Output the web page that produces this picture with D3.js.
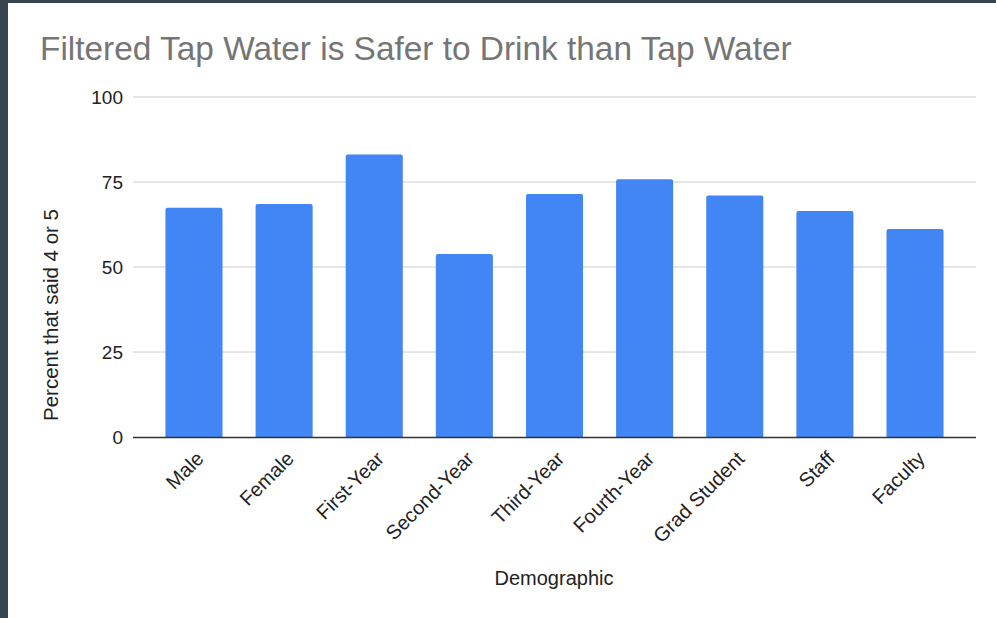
<!DOCTYPE html>
<html>
<head>
<meta charset="utf-8">
<script src="https://cdn.jsdelivr.net/npm/d3@7"></script>
<style>
  html, body { margin: 0; padding: 0; background: #36454f; }
  svg { display: block; }
</style>
</head>
<body>
<script>
const categories = ["Male", "Female", "First-Year", "Second-Year", "Third-Year", "Fourth-Year", "Grad Student", "Staff", "Faculty"];
const values = [67.4, 68.5, 83.1, 53.8, 71.5, 75.8, 71.0, 66.5, 61.2];
const yTicks = [0, 25, 50, 75, 100];
const title = "Filtered Tap Water is Safer to Drink than Tap Water";
const xTitle = "Demographic";
const yTitle = "Percent that said 4 or 5";

const W = 996, H = 618;
const svg = d3.select("body").append("svg").attr("width", W).attr("height", H);

// dark frame + white panel
svg.append("rect").attr("x", 0).attr("y", 0).attr("width", W).attr("height", H).attr("fill", "#36454f");
svg.append("rect").attr("x", 8).attr("y", 3).attr("width", W - 8).attr("height", H - 3).attr("fill", "#ffffff");

const font = "'Liberation Sans', Arial, sans-serif";
const plotLeft = 133, plotRight = 976, plotTop = 97, plotBottom = 437;

const x = d3.scaleBand().domain(categories).range([plotLeft, plotRight]).paddingInner(0.367).paddingOuter(0.36);
const y = d3.scaleLinear().domain([0, 100]).range([plotBottom, plotTop]);

// gridlines
svg.append("g").selectAll("line").data(yTicks.filter(t => t !== 0)).join("line")
  .attr("x1", plotLeft).attr("x2", plotRight)
  .attr("y1", d => y(d)).attr("y2", d => y(d))
  .attr("stroke", "#cccccc").attr("stroke-width", 1);

// y tick labels
svg.append("g").selectAll("text").data(yTicks).join("text")
  .attr("x", plotLeft - 10).attr("y", d => y(d))
  .attr("dy", "0.35em")
  .attr("text-anchor", "end")
  .attr("font-family", font).attr("font-size", 19).attr("fill", "#222222")
  .text(d => d);

// bars with rounded top corners
const r = 2;
svg.append("g").selectAll("path").data(categories).join("path")
  .attr("fill", "#4285f4")
  .attr("d", (c, i) => {
    const x0 = x(c), w = x.bandwidth(), yt = y(values[i]), yb = y(0);
    return `M${x0},${yb} L${x0},${yt + r} Q${x0},${yt} ${x0 + r},${yt} L${x0 + w - r},${yt} Q${x0 + w},${yt} ${x0 + w},${yt + r} L${x0 + w},${yb} Z`;
  });

// baseline
svg.append("line").attr("x1", plotLeft).attr("x2", plotRight).attr("y1", y(0) + 0.5).attr("y2", y(0) + 0.5)
  .attr("stroke", "#333333").attr("stroke-width", 1.3);

// x tick labels rotated
svg.append("g").selectAll("text").data(categories).join("text")
  .attr("transform", c => `translate(${x(c) + x.bandwidth() / 2 + 6},${plotBottom + 18}) rotate(-45)`)
  .attr("text-anchor", "end")
  .attr("dy", "0.35em")
  .attr("font-family", font).attr("font-size", 20).attr("fill", "#222222")
  .text(c => c);

// title
svg.append("text").attr("x", 40).attr("y", 60)
  .attr("font-family", font).attr("font-size", 33.4).attr("fill", "#757575")
  .text(title);

// axis titles
svg.append("text").attr("x", 554).attr("y", 585)
  .attr("text-anchor", "middle")
  .attr("font-family", font).attr("font-size", 20).attr("fill", "#222222")
  .text(xTitle);

svg.append("text").attr("transform", `translate(58,315) rotate(-90)`)
  .attr("text-anchor", "middle")
  .attr("font-family", font).attr("font-size", 20.5).attr("fill", "#222222")
  .text(yTitle);
</script>
</body>
</html>
